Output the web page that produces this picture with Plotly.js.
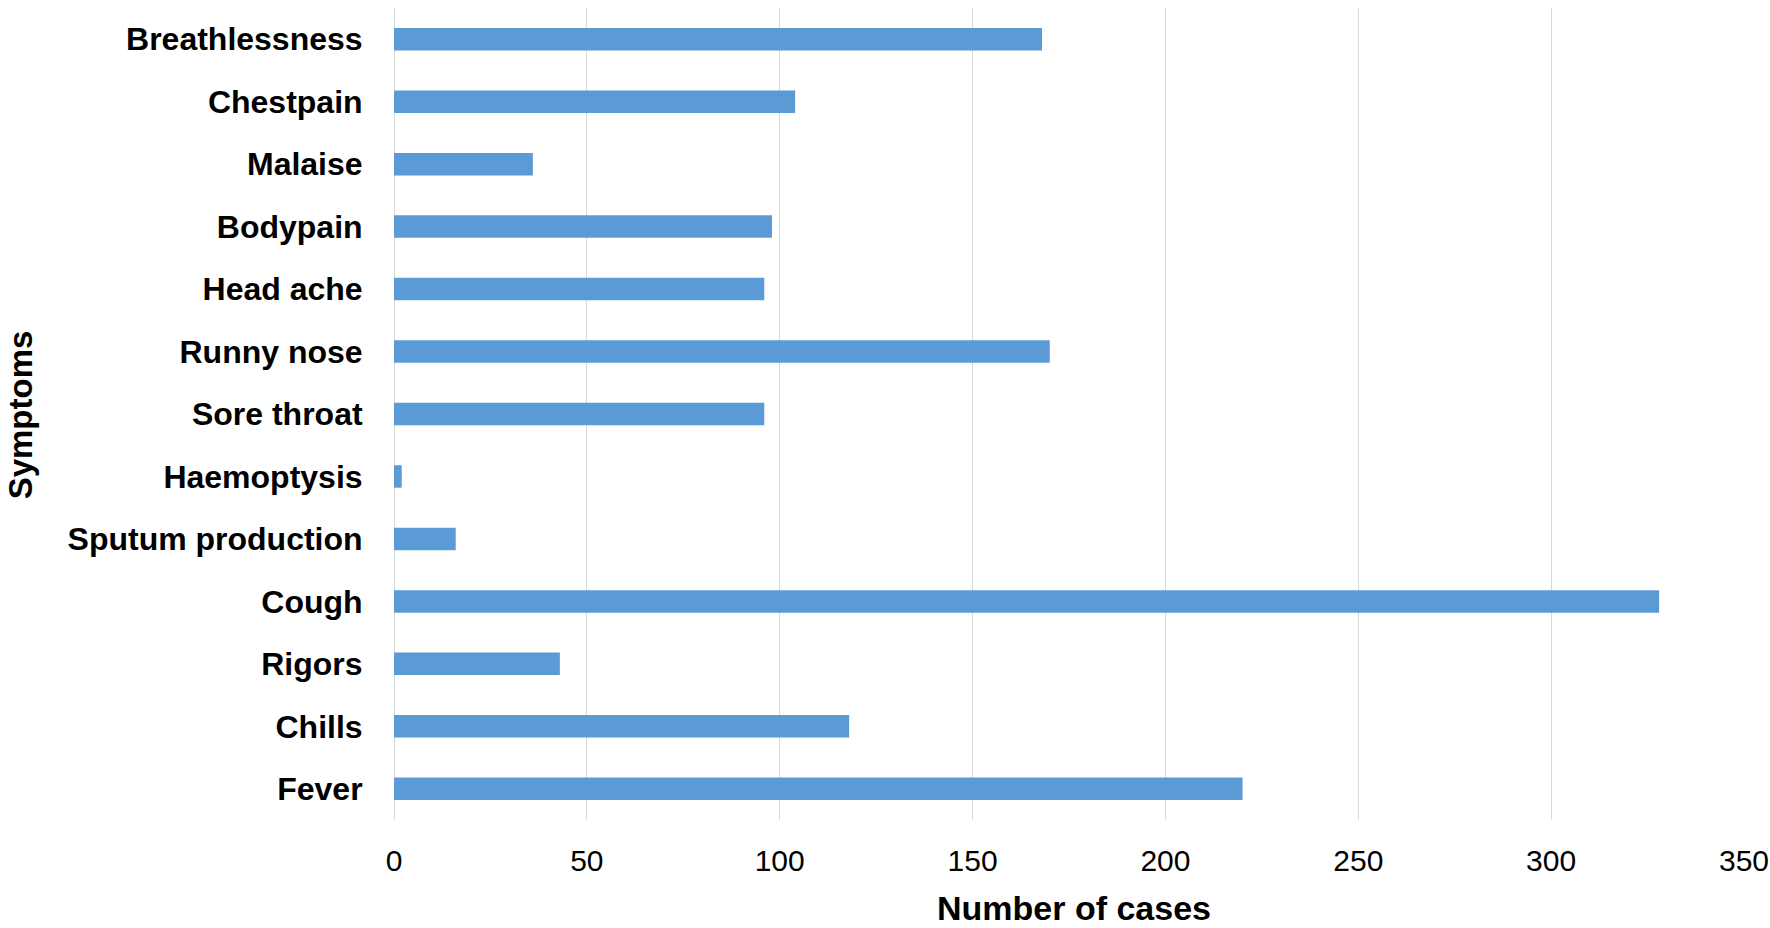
<!DOCTYPE html>
<html>
<head>
<meta charset="utf-8">
<script src="https://cdn.plot.ly/plotly-3.0.1.min.js"></script>
<style>
  html, body { margin: 0; padding: 0; background: #ffffff; }
  #chart { width: 1770px; height: 928px; }
</style>
</head>
<body>
<div id="chart"></div>
<script>
const symptoms = [
  "Breathlessness", "Chestpain", "Malaise", "Bodypain", "Head ache",
  "Runny nose", "Sore throat", "Haemoptysis", "Sputum production",
  "Cough", "Rigors", "Chills", "Fever"
];
const cases = [168, 104, 36, 98, 96, 170, 96, 2, 16, 328, 43, 118, 220];
const xTickValues = [0, 50, 100, 150, 200, 250, 300, 350];
const xTitle = "Number of cases";
const yTitle = "Symptoms";

const FONT = "Liberation Sans, Arial, sans-serif";

const trace = {
  type: "bar",
  orientation: "h",
  x: cases,
  y: symptoms,
  marker: { color: "#5B9BD5" },
  hoverinfo: "x+y"
};

const layout = {
  width: 1770,
  height: 928,
  margin: { l: 394, r: 26, t: 8, b: 108, pad: 0 },
  paper_bgcolor: "#ffffff",
  plot_bgcolor: "#ffffff",
  bargap: 0.64,
  showlegend: false,
  font: { family: FONT, color: "#000000" },
  xaxis: {
    range: [0, 350],
    tickmode: "array",
    tickvals: xTickValues,
    ticktext: xTickValues.map(String),
    showgrid: true,
    gridcolor: "#D9D9D9",
    gridwidth: 1,
    zeroline: true,
    zerolinecolor: "#D9D9D9",
    zerolinewidth: 1,
    showline: false,
    ticks: "outside",
    ticklen: 14,
    tickcolor: "rgba(0,0,0,0)",
    tickfont: { size: 30, family: FONT, color: "#000000" },
    automargin: false,
    fixedrange: true
  },
  yaxis: {
    type: "category",
    autorange: "reversed",
    showgrid: false,
    zeroline: false,
    showline: false,
    ticks: "outside",
    ticklen: 24,
    tickcolor: "rgba(0,0,0,0)",
    tickfont: { size: 32, family: FONT, color: "#000000", weight: "bold" },
    automargin: false,
    fixedrange: true
  },
  annotations: [
    {
      text: "<b>" + xTitle + "</b>",
      xref: "paper", yref: "paper",
      x: 0.5037, y: -0.1080,
      xanchor: "center", yanchor: "middle",
      showarrow: false,
      font: { size: 34, family: FONT, color: "#000000" }
    },
    {
      text: "<b>" + yTitle + "</b>",
      xref: "paper", yref: "paper",
      x: -0.2760, y: 0.4988,
      xanchor: "center", yanchor: "middle",
      textangle: -90,
      showarrow: false,
      font: { size: 33, family: FONT, color: "#000000" }
    }
  ]
};

Plotly.newPlot("chart", [trace], layout, { displayModeBar: false, staticPlot: true });
</script>
</body>
</html>
